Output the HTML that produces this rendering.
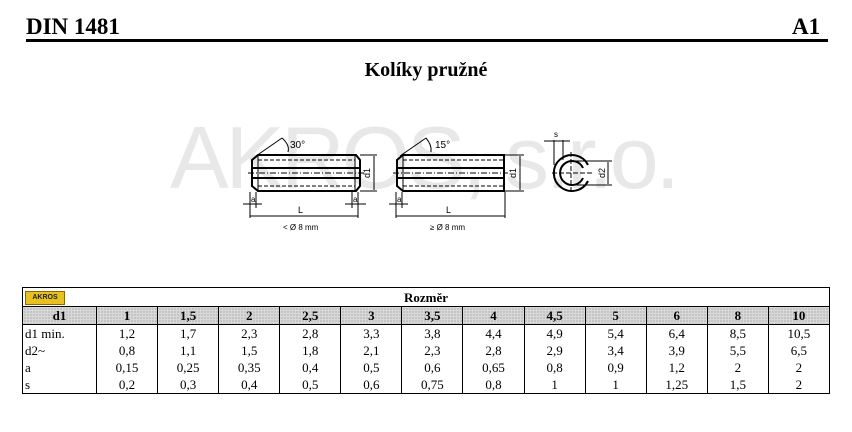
<!DOCTYPE html>
<html><head><meta charset="utf-8"><style>
body{margin:0;width:852px;height:432px;background:#fff;position:relative;overflow:hidden;font-family:"Liberation Serif",serif}
.a{position:absolute}
table{position:absolute;left:22px;top:287px;width:808px;border-collapse:collapse;font-size:13px;table-layout:fixed}
td{border:1px solid #000;text-align:center;padding:0;height:16px;line-height:15px}
tr.r td{border-top:none;border-bottom:none;height:17px}
tr.r td:first-child{text-align:left;padding-left:2px}
tr.h td{background-color:#d8d8d8;background-image:radial-gradient(#888 0.6px,transparent 0.7px);background-size:3px 3px;font-weight:bold;height:17px}
tr.l td{border-bottom:1px solid #000}
</style></head><body>
<svg class="a" style="left:0;top:0" width="852" height="240"><text x="170" y="188" font-family="Liberation Sans,sans-serif" font-size="88" fill="#e8e8e8" textLength="510" lengthAdjust="spacing">AKROS, s.r.o.</text></svg>
<div class="a" style="left:26px;top:14px;font-size:23px;font-weight:bold">DIN 1481</div>
<div class="a" style="left:792px;top:14px;font-size:23px;font-weight:bold">A1</div>
<div class="a" style="left:26px;top:39px;width:802px;height:3px;background:#000"></div>
<div class="a" style="left:0;width:852px;top:59px;text-align:center;font-size:20px;font-weight:bold">Kolíky pružné</div>
<svg class="a" style="left:0;top:0" width="852" height="290" font-family="Liberation Sans,sans-serif" font-size="8">
<g stroke="#000" fill="none">
<path d="M258 155 L356 155 L360 160 L360 186 L356 191 L258 191 L252 186 L252 160 Z" stroke-width="2"/>
<line x1="258" y1="155" x2="258" y2="191"/><line x1="355" y1="155" x2="355" y2="191"/>
<rect x="252" y="168" width="108" height="10" stroke-width="2"/>
<line x1="258" y1="160" x2="355" y2="160" stroke-dasharray="4,2"/><line x1="258" y1="186" x2="355" y2="186" stroke-dasharray="4,2"/>
<line x1="248" y1="173" x2="364" y2="173" stroke-dasharray="6,2,1,2"/>
<line x1="256" y1="156" x2="282" y2="138"/><path d="M282 138 Q290 145 288 152"/>
<line x1="360" y1="155" x2="377" y2="155"/><line x1="360" y1="191" x2="377" y2="191"/><line x1="374" y1="156" x2="374" y2="190"/>
<line x1="250" y1="192" x2="250" y2="218"/><line x1="358" y1="192" x2="358" y2="218"/>
<line x1="256" y1="192" x2="256" y2="208"/><line x1="352" y1="192" x2="352" y2="208"/>
<line x1="243" y1="204" x2="262" y2="204"/><line x1="345" y1="204" x2="366" y2="204"/>
<line x1="250" y1="216" x2="358" y2="216"/>
<path d="M403 155 L504 155 L504 191 L403 191 L397 186 L397 160 Z" stroke-width="2"/>
<line x1="403" y1="155" x2="403" y2="191"/>
<rect x="397" y="168" width="107" height="10" stroke-width="2"/>
<line x1="403" y1="160" x2="504" y2="160" stroke-dasharray="4,2"/><line x1="403" y1="186" x2="504" y2="186" stroke-dasharray="4,2"/>
<line x1="393" y1="173" x2="508" y2="173" stroke-dasharray="6,2,1,2"/>
<line x1="400" y1="156" x2="426" y2="138"/><path d="M426 138 Q432 145 431 152"/>
<line x1="504" y1="155" x2="524" y2="155"/><line x1="504" y1="191" x2="524" y2="191"/><line x1="520" y1="156" x2="520" y2="190"/>
<line x1="396" y1="192" x2="396" y2="218"/><line x1="505" y1="192" x2="505" y2="218"/>
<line x1="402" y1="192" x2="402" y2="208"/>
<line x1="389" y1="204" x2="408" y2="204"/>
<line x1="396" y1="216" x2="505" y2="216"/>
<path d="M588 165 A18 18 0 1 0 588 181" stroke-width="2"/>
<path d="M583 168 A12 12 0 1 0 583 178" stroke-width="2"/>
<line x1="552" y1="173" x2="592" y2="173" stroke-dasharray="5,2"/><line x1="571" y1="152" x2="571" y2="194" stroke-dasharray="5,2"/>
<line x1="554" y1="140" x2="554" y2="165"/><line x1="563" y1="140" x2="563" y2="160"/>
<line x1="544" y1="141" x2="570" y2="141"/>
<line x1="575" y1="161" x2="612" y2="161"/><line x1="575" y1="185" x2="612" y2="185"/><line x1="608" y1="162" x2="608" y2="184"/>
</g>
<text x="290" y="148" font-size="10">30°</text><text x="435" y="148" font-size="10">15°</text>
<text x="370" y="178" transform="rotate(-90 370 178)" font-size="9">d1</text>
<text x="516" y="178" transform="rotate(-90 516 178)" font-size="9">d1</text>
<text x="605" y="178" transform="rotate(-90 605 178)" font-size="9">d2</text>
<text x="554" y="137">s</text>
<text x="251" y="202">a</text><text x="353" y="202">a</text><text x="397" y="202">a</text>
<text x="298" y="213" font-size="9">L</text><text x="446" y="213" font-size="9">L</text>
<text x="283" y="230">&lt; Ø 8 mm</text><text x="430" y="230">≥ Ø 8 mm</text>
</svg>
<table>
<colgroup><col style="width:74px"><col span="12"></colgroup>
<tr><td colspan="13" style="height:18px;position:relative;font-weight:bold;font-size:13px"><div style="position:absolute;left:2px;top:3px;width:38px;height:12px;background:#e8c020;border:1px solid #8a6a00;font:bold 7px 'Liberation Sans',sans-serif;line-height:12px;color:#222">AKROS</div>Rozměr</td></tr>
<tr class="h"><td>d1</td><td>1</td><td>1,5</td><td>2</td><td>2,5</td><td>3</td><td>3,5</td><td>4</td><td>4,5</td><td>5</td><td>6</td><td>8</td><td>10</td></tr>
<tr class="r"><td>d1 min.</td><td>1,2</td><td>1,7</td><td>2,3</td><td>2,8</td><td>3,3</td><td>3,8</td><td>4,4</td><td>4,9</td><td>5,4</td><td>6,4</td><td>8,5</td><td>10,5</td></tr>
<tr class="r"><td>d2~</td><td>0,8</td><td>1,1</td><td>1,5</td><td>1,8</td><td>2,1</td><td>2,3</td><td>2,8</td><td>2,9</td><td>3,4</td><td>3,9</td><td>5,5</td><td>6,5</td></tr>
<tr class="r"><td>a</td><td>0,15</td><td>0,25</td><td>0,35</td><td>0,4</td><td>0,5</td><td>0,6</td><td>0,65</td><td>0,8</td><td>0,9</td><td>1,2</td><td>2</td><td>2</td></tr>
<tr class="r l"><td>s</td><td>0,2</td><td>0,3</td><td>0,4</td><td>0,5</td><td>0,6</td><td>0,75</td><td>0,8</td><td>1</td><td>1</td><td>1,25</td><td>1,5</td><td>2</td></tr>
</table>
</body></html>
